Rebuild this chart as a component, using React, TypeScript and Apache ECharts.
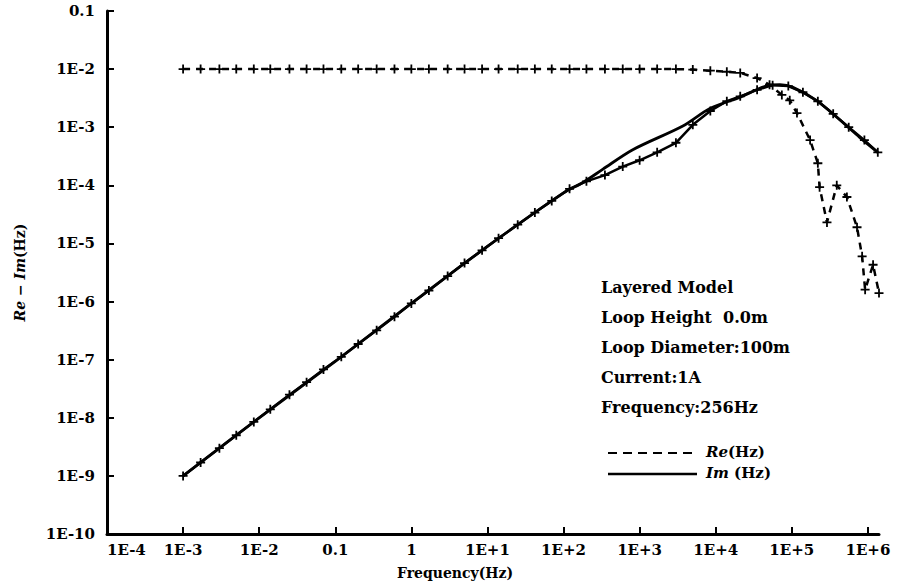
import React, { useEffect, useRef } from "react";
import * as echarts from "echarts";

// ---- tick values / labels ----
const xTickValues = [1e-4, 1e-3, 1e-2, 0.1, 1, 10, 100, 1000, 10000, 100000, 1000000];
const xTickLabels = ["1E-4", "1E-3", "1E-2", "0.1", "1", "1E+1", "1E+2", "1E+3", "1E+4", "1E+5", "1E+6"];
const yTickLabels = ["1E-10", "1E-9", "1E-8", "1E-7", "1E-6", "1E-5", "1E-4", "1E-3", "1E-2", "0.1"];

// ---- marker frequencies (Hz) ----
const markFreq = [
  0.001, 0.0017, 0.003, 0.005, 0.0085, 0.014, 0.025, 0.042, 0.07, 0.12, 0.2, 0.35, 0.6, 1, 1.7, 3, 5, 8.5,
  14, 25, 42, 70, 120, 200, 350, 600, 1000, 1700, 3000, 5000, 8500, 14000, 21000,
];

// Re (dashed, with + markers) – flat part at marker frequencies
const reFlat = [
  0.01, 0.01, 0.01, 0.01, 0.01, 0.01, 0.01, 0.01, 0.01, 0.01, 0.01, 0.01, 0.01, 0.01, 0.01, 0.01, 0.01, 0.01,
  0.01, 0.01, 0.01, 0.01, 0.01, 0.01, 0.01, 0.01, 0.01, 0.01, 0.01, 0.0098, 0.0094, 0.009, 0.0086,
];
// Re – high-frequency fall-off
const reTailFreq = [35000, 51000, 74000, 94000, 117000, 174000, 220000, 232000, 290000, 390000, 530000, 720000, 840000, 920000, 1170000, 1400000];
const reTail = [0.007, 0.0054, 0.0036, 0.0029, 0.00175, 0.0006, 0.00024, 0.000093, 0.000023, 0.0001, 0.000063, 0.000019, 0.000006, 0.0000016, 0.0000043, 0.0000014];

// Im with + markers
const imMarked = [
  1.0e-9, 1.7e-9, 3.0e-9, 5.0e-9, 8.5e-9, 1.4e-8, 2.5e-8, 4.1e-8, 6.8e-8, 1.12e-7, 1.86e-7, 3.2e-7, 5.5e-7,
  9.3e-7, 1.55e-6, 2.75e-6, 4.6e-6, 7.6e-6, 1.23e-5, 2.1e-5, 3.4e-5, 5.4e-5, 8.7e-5, 1.17e-4, 1.5e-4, 2.1e-4,
  2.7e-4, 3.7e-4, 5.4e-4, 1.1e-3, 1.9e-3, 2.8e-3, 3.4e-3,
];
const imMarkedTailFreq = [35000, 56000, 90000, 140000, 220000, 350000, 560000, 900000, 1350000];
const imMarkedTail = [0.0044, 0.0053, 0.0051, 0.004, 0.0028, 0.0017, 0.001, 0.0006, 0.00037];

// Im solid line
const imFreq = [0.001, 0.01, 0.1, 1, 10, 100, 180, 330, 813, 3700, 8400, 21000, 51000, 70000, 102000, 210000, 430000, 780000, 1350000];
const imLine = [1e-9, 1.0e-8, 9.3e-8, 9.3e-7, 8.9e-6, 7.4e-5, 1.12e-4, 1.9e-4, 4.1e-4, 1.05e-3, 2.1e-3, 3.3e-3, 5.3e-3, 5.4e-3, 4.9e-3, 2.9e-3, 1.33e-3, 6.7e-4, 3.7e-4];

// annotation
const infoLines = ["Layered Model", "Loop Height  0.0m", "Loop Diameter:100m", "Current:1A", "Frequency:256Hz"];

const FONT = "DejaVu Serif";
const PLUS = "path://M4,0H6V4H10V6H6V10H4V6H0V4H4Z";

function zip(xs: number[], ys: number[]) {
  return xs.map((x, i) => [x, ys[i]]);
}

function xLabel(v: number) {
  const i = xTickValues.findIndex((t) => Math.abs(Math.log10(t) - Math.log10(v)) < 1e-6);
  return i >= 0 ? xTickLabels[i] : "";
}

export default function App() {
  const ref = useRef<HTMLDivElement>(null);
  useEffect(() => {
    if (!ref.current) return;
    const chart = echarts.init(ref.current, null, { renderer: "svg" });
    const labelStyle = { fontFamily: FONT, fontWeight: "bold" as const, fontSize: 15, color: "#000" };
    const infoGraphics = infoLines.map((t, i) => ({
      type: "text",
      left: 601,
      top: 279 + i * 30,
      style: { text: t, fontFamily: FONT, fontWeight: "bold", fontSize: 16, fill: "#000" },
    }));
    const option: any = {
      animation: false,
      backgroundColor: "#fff",
      grid: { left: 107, right: 21, top: 11, bottom: 53, containLabel: false },
      xAxis: {
        type: "log",
        logBase: 10,
        min: 1e-4,
        max: 1.4e6,
        name: "Frequency(Hz)",
        nameLocation: "middle",
        nameGap: 32,
        nameTextStyle: { ...labelStyle, fontSize: 14, padding: [0, 76, 0, 0] },
        axisLine: { lineStyle: { color: "#000", width: 3 } },
        axisTick: { inside: true, length: 7, lineStyle: { color: "#000", width: 2 }, customValues: xTickValues },
        axisLabel: {
          ...labelStyle,
          margin: 8,
          customValues: xTickValues,
          alignMinLabel: "left",
          formatter: (v: number) => xLabel(v),
        },
        splitLine: { show: false },
        minorTick: { show: false },
      },
      yAxis: {
        type: "log",
        logBase: 10,
        min: 1e-10,
        max: 0.1,
        interval: 1,
        splitNumber: 9,
        name: "{i|Re} − {i|Im}(Hz)",
        nameLocation: "middle",
        nameRotate: 90,
        nameGap: 80,
        nameTextStyle: {
          ...labelStyle,
          fontSize: 14,
          rich: { i: { fontFamily: FONT, fontWeight: "bold", fontStyle: "italic", fontSize: 14, color: "#000" } },
        },
        axisLine: { lineStyle: { color: "#000", width: 3 } },
        axisTick: { inside: true, length: 7, lineStyle: { color: "#000", width: 2 } },
        axisLabel: {
          ...labelStyle,
          margin: 12,
          formatter: (v: number) => yTickLabels[Math.round(Math.log10(v)) + 10] ?? "",
        },
        splitLine: { show: false },
      },
      series: [
        {
          name: "Re(Hz)",
          type: "line",
          data: zip(markFreq, reFlat).concat(zip(reTailFreq, reTail)),
          symbol: PLUS,
          symbolSize: 9,
          showSymbol: true,
          itemStyle: { color: "#000" },
          lineStyle: { color: "#000", width: 2.5, type: [7, 6] },
        },
        {
          name: "Im points",
          type: "line",
          data: zip(markFreq, imMarked).concat(zip(imMarkedTailFreq, imMarkedTail)),
          symbol: PLUS,
          symbolSize: 9,
          showSymbol: true,
          itemStyle: { color: "#000" },
          lineStyle: { color: "#000", width: 2.5 },
        },
        {
          name: "Im(Hz)",
          type: "line",
          smooth: 0.3,
          data: zip(imFreq, imLine),
          showSymbol: false,
          symbol: "none",
          lineStyle: { color: "#000", width: 2.8 },
        },
      ],
      graphic: [
        ...infoGraphics,
        {
          type: "line",
          shape: { x1: 608, y1: 453, x2: 697, y2: 453 },
          style: { stroke: "#000", lineWidth: 2, lineDash: [9, 6] },
        },
        {
          type: "text",
          left: 706,
          top: 444,
          style: {
            text: "{i|Re}(Hz)",
            fontFamily: FONT,
            fontWeight: "bold",
            fontSize: 15,
            fill: "#000",
            rich: { i: { fontFamily: FONT, fontWeight: "bold", fontStyle: "italic", fontSize: 15, fill: "#000" } },
          },
        },
        {
          type: "line",
          shape: { x1: 608, y1: 474, x2: 697, y2: 474 },
          style: { stroke: "#000", lineWidth: 2.5 },
        },
        {
          type: "text",
          left: 706,
          top: 465,
          style: {
            text: "{i|Im} (Hz)",
            fontFamily: FONT,
            fontWeight: "bold",
            fontSize: 15,
            fill: "#000",
            rich: { i: { fontFamily: FONT, fontWeight: "bold", fontStyle: "italic", fontSize: 15, fill: "#000" } },
          },
        },
      ],
    };
    chart.setOption(option);
    return () => chart.dispose();
  }, []);
  return <div ref={ref} style={{ position: "fixed", left: 0, top: 0, width: 900, height: 587 }} />;
}
